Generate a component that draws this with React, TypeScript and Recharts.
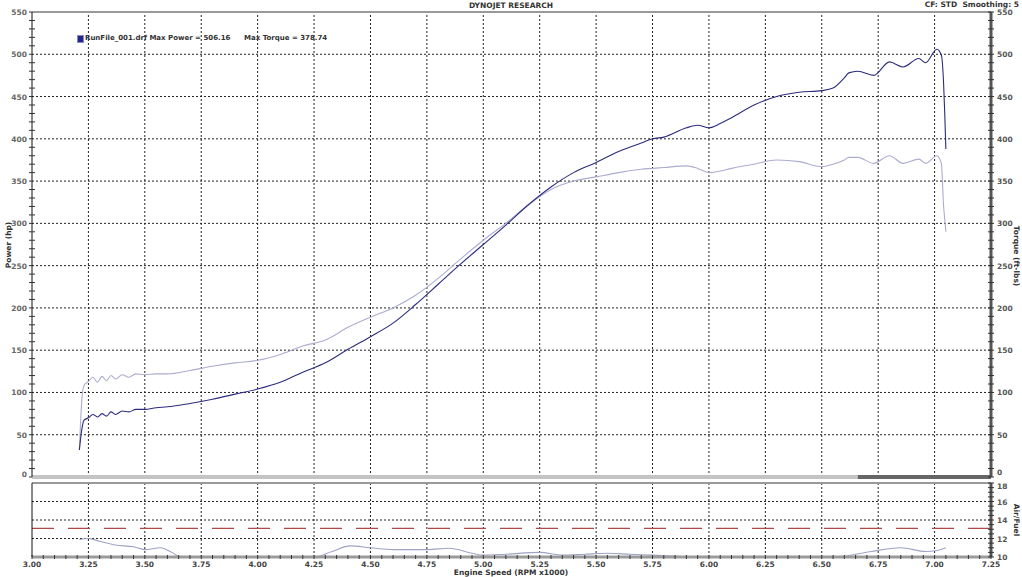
import React from "react";
import { ComposedChart, LineChart, Line, XAxis, YAxis, ReferenceLine } from "recharts";

const rpm = [
  3.21, 3.22, 3.23, 3.25, 3.27, 3.29, 3.31, 3.33, 3.35, 3.37, 3.4, 3.43, 3.46, 3.5, 3.55, 3.6, 3.7, 3.8, 3.9, 4.0,
  4.1, 4.2, 4.3, 4.4, 4.5, 4.6, 4.7, 4.8, 4.9, 5.0, 5.1, 5.2, 5.3, 5.4, 5.5, 5.6, 5.7, 5.75, 5.8, 5.9, 5.95, 6.0,
  6.05, 6.1, 6.2, 6.3, 6.4, 6.5, 6.55, 6.6, 6.62, 6.66, 6.73, 6.8, 6.86, 6.93, 6.96, 7.01, 7.03, 7.04, 7.045, 7.05,
];
const powerHp = [
  32, 55, 67, 70, 74, 71, 75, 72, 77, 74, 78, 77, 80, 80, 82, 83, 87, 92, 98, 104,
  112, 124, 135, 151, 166, 182, 204, 228, 252, 275, 298, 322, 343, 360, 372, 385, 395, 400, 402, 413, 416, 413,
  418, 425, 440, 450, 455, 457, 460, 472, 478, 480, 475, 491, 485, 495, 490, 506, 499, 465, 430, 388,
];
const torqueFtLb = [
  32, 88, 108, 113, 118, 112, 119, 114, 120, 116, 121, 118, 122, 121, 122, 122, 126, 131, 135, 138,
  145, 155, 162, 177, 189, 200, 215, 235, 258, 280, 300, 322, 340, 350, 355, 360, 364, 365, 366, 368, 365, 360,
  362, 365, 370, 375, 373, 367, 370, 375, 378, 378, 371, 380, 371, 376, 371, 380, 371, 320, 305, 290,
];

const afrRpm = [
  3.21, 3.25, 3.3, 3.37, 3.45, 3.5, 3.57, 3.62, 3.66, 4.0, 4.25, 4.33, 4.41, 4.5, 4.6, 4.75, 4.85, 4.95, 5.0,
  5.1, 5.25, 5.35, 5.45, 5.55, 5.65, 5.75, 5.9, 6.2, 6.57, 6.65, 6.72, 6.85, 6.96, 7.01, 7.05,
];
const afr = [
  11.9, 12.0, 11.7, 11.3, 11.1, 10.8, 11.0, 10.5, 10.0, 10.0, 10.0, 10.6, 11.2, 11.0, 10.8, 10.8, 10.95, 10.4, 10.2,
  10.3, 10.5, 10.2, 10.3, 10.4, 10.3, 10.2, 10.05, 10.0, 10.0, 10.3, 10.6, 11.0, 10.6, 10.7, 11.0,
];

const xMajorTicks = [3.0, 3.25, 3.5, 3.75, 4.0, 4.25, 4.5, 4.75, 5.0, 5.25, 5.5, 5.75, 6.0, 6.25, 6.5, 6.75, 7.0, 7.25];
const powerTicks = [0, 50, 100, 150, 200, 250, 300, 350, 400, 450, 500, 550];
const afrTicks = [10, 12, 14, 16, 18];
const afrTarget = 13.1;

const xMinorTicks = Array.from({ length: 86 }, (_, i) => Math.round((3 + i * 0.05) * 100) / 100);
const powerMinorTicks = Array.from({ length: 56 }, (_, i) => i * 10);
const afrMinorTicks = Array.from({ length: 17 }, (_, i) => 10 + i * 0.5);

const dynoData = rpm.map((r, i) => ({ rpm: r, power: powerHp[i], torque: torqueFtLb[i] }));
const afrData = afrRpm.map((r, i) => ({ rpm: r, afr: afr[i] }));

const FONT = "'DejaVu Sans', Verdana, sans-serif";
const GRID = "#222";

const LeftTick = (props: any) => {
  const { x, y, payload } = props;
  const v = payload.value;
  const major = v % 50 === 0;
  return (
    <g>
      <line x1={x - 3} x2={x + (major ? 0 : 3)} y1={y} y2={y} stroke="#333" />
      {major && (
        <text x={x - 5} y={y + 3 - (v === 0 ? 3 : 0)} textAnchor="end" fontSize={7.5} fontWeight="bold" fill="#666" fontFamily={FONT}>
          {v}
        </text>
      )}
    </g>
  );
};

const RightTick = (props: any) => {
  const { x, y, payload, labelEvery, offsetY } = props;
  const v = payload.value;
  const major = Math.abs(v / labelEvery - Math.round(v / labelEvery)) < 1e-6;
  return (
    <g>
      <line x1={x - 3} x2={x + 3} y1={y} y2={y} stroke="#333" />
      {major && (
        <text x={x + 6} y={y + 3 + (offsetY ? offsetY(v) : 0)} textAnchor="start" fontSize={7.5} fontWeight="bold" fill="#555" fontFamily={FONT}>
          {v}
        </text>
      )}
    </g>
  );
};

const BottomTick = (props: any) => {
  const { x, y, payload } = props;
  const v = payload.value;
  const major = Math.abs(v * 4 - Math.round(v * 4)) < 1e-6;
  return (
    <g>
      <line x1={x} x2={x} y1={y - 2} y2={y + 2} stroke="#333" />
      {major && (
        <text x={x} y={y + 10} textAnchor="middle" fontSize={7.5} fontWeight="bold" fill="#444" fontFamily={FONT}>
          {v.toFixed(2)}
        </text>
      )}
    </g>
  );
};

const txt: React.CSSProperties = {
  position: "absolute",
  fontFamily: FONT,
  fontSize: 7.5,
  fontWeight: "bold",
  color: "#333",
  whiteSpace: "pre",
  lineHeight: "9px",
};

export default function App() {
  return (
    <div style={{ position: "absolute", left: 0, top: 0, width: 1022, height: 577, background: "#fff", overflow: "hidden" }}>
      <ComposedChart width={1022} height={480} data={dynoData} margin={{ top: 12, right: 0, left: 0, bottom: 3 }}>
        <XAxis dataKey="rpm" type="number" domain={[3, 7.25]} ticks={xMajorTicks} hide />
        <YAxis
          yAxisId="l"
          width={32}
          domain={[0, 550]}
          ticks={powerMinorTicks}
          interval={0}
          tickSize={0}
          tickMargin={0}
          tickLine={false}
          tick={<LeftTick />}
          axisLine={{ stroke: "#111" }}
        />
        <YAxis
          yAxisId="r"
          orientation="right"
          width={31}
          domain={[0, 550]}
          ticks={powerMinorTicks}
          interval={0}
          tickSize={0}
          tickMargin={0}
          tickLine={false}
          tick={<RightTick labelEvery={50} offsetY={(v: number) => (v === 0 ? -5 : 0)} />}
          axisLine={{ stroke: "#555", strokeWidth: 3 }}
        />
        {xMajorTicks.slice(1, -1).map((t) => (
          <ReferenceLine key={"vx" + t} x={t} yAxisId="l" stroke={GRID} strokeDasharray="2 2" />
        ))}
        {powerTicks.slice(1, -1).map((t) => (
          <ReferenceLine key={"hy" + t} y={t} yAxisId="l" stroke={GRID} strokeDasharray="2 2" />
        ))}
        <ReferenceLine y={550} yAxisId="l" stroke="#999" strokeWidth={2} />
        <ReferenceLine y={0} yAxisId="l" stroke="#c4c4c4" strokeWidth={4} />
        <ReferenceLine yAxisId="l" segment={[{ x: 6.66, y: 0 }, { x: 7.25, y: 0 }]} stroke="#666" strokeWidth={4} />
        <Line yAxisId="r" dataKey="torque" type="monotone" stroke="#acacd0" strokeWidth={1.1} dot={false} isAnimationActive={false} />
        <Line yAxisId="l" dataKey="power" type="monotone" stroke="#2c2c7e" strokeWidth={1.1} dot={false} isAnimationActive={false} />
      </ComposedChart>

      <ComposedChart width={1022} height={97} data={afrData} margin={{ top: 3, right: 0, left: 0, bottom: 0 }}>
        <XAxis
          dataKey="rpm"
          type="number"
          domain={[3, 7.25]}
          ticks={xMinorTicks}
          interval={0}
          height={20}
          tickSize={0}
          tickMargin={0}
          tickLine={false}
          tick={<BottomTick />}
          axisLine={{ stroke: "#9a9a9a", strokeWidth: 3 }}
        />
        <YAxis yAxisId="l" width={32} domain={[10, 18]} ticks={afrTicks} tick={false} tickLine={false} axisLine={{ stroke: "#111" }} />
        <YAxis
          yAxisId="r"
          orientation="right"
          width={31}
          domain={[10, 18]}
          ticks={afrMinorTicks}
          interval={0}
          tickSize={0}
          tickMargin={0}
          tickLine={false}
          tick={<RightTick labelEvery={2} offsetY={(v: number) => (v === 18 ? 3 : 0)} />}
          axisLine={{ stroke: "#555", strokeWidth: 3 }}
        />
        {xMajorTicks.slice(1, -1).map((t) => (
          <ReferenceLine key={"bx" + t} x={t} yAxisId="l" stroke={GRID} strokeDasharray="2 2" />
        ))}
        {afrTicks.slice(1, -1).map((t) => (
          <ReferenceLine key={"by" + t} y={t} yAxisId="l" stroke={GRID} strokeDasharray="2 2" />
        ))}
        <ReferenceLine y={18} yAxisId="l" stroke="#999" strokeWidth={2} />
        <ReferenceLine y={afrTarget} yAxisId="l" stroke="#b04848" strokeWidth={1.2} strokeDasharray="22 14" />
        <Line yAxisId="r" dataKey="afr" type="monotone" stroke="#9ea2c4" strokeWidth={1.1} dot={false} isAnimationActive={false} />
        <Line yAxisId="l" dataKey="afr" type="monotone" stroke="none" dot={false} isAnimationActive={false} />
      </ComposedChart>

      <div style={{ ...txt, left: 0, width: 1022, top: 1, textAlign: "center" }}>DYNOJET RESEARCH</div>
      <div style={{ ...txt, right: 3, top: 0 }}>CF: STD  Smoothing: 5</div>

      <div style={{ position: "absolute", left: 77, top: 35, width: 5, height: 6, background: "#24248a", border: "1px solid #8888cc" }} />
      <div style={{ ...txt, left: 85, top: 34, fontSize: 7 }}>RunFile_001.drf Max Power = 506.16</div>
      <div style={{ ...txt, left: 244, top: 34, fontSize: 7 }}>Max Torque = 378.74</div>

      <div style={{ ...txt, left: 8, top: 245, transform: "translate(-50%, -50%) rotate(-90deg)" }}>Power (hp)</div>
      <div style={{ ...txt, left: 1016, top: 256, transform: "translate(-50%, -50%) rotate(90deg)" }}>Torque (ft-lbs)</div>
      <div style={{ ...txt, left: 1016, top: 520, transform: "translate(-50%, -50%) rotate(90deg)" }}>Air/Fuel</div>
      <div style={{ ...txt, left: 0, width: 1022, top: 568, textAlign: "center" }}>Engine Speed (RPM x1000)</div>
    </div>
  );
}
